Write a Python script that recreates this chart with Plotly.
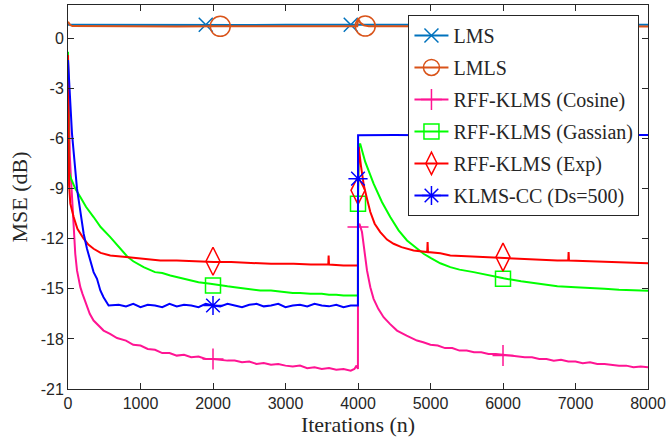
import plotly.graph_objects as go

# ---------------- data ----------------
lms_n = [0, 500, 1000, 1500, 2000, 2500, 3000, 3500, 4000, 4500, 5000, 5500, 6000, 6500, 7000, 7500, 8000]
lms_v = [0.82, 0.81, 0.83, 0.81, 0.82, 0.80, 0.82, 0.81, 0.83, 0.81, 0.82, 0.81, 0.82, 0.80, 0.82, 0.81, 0.82]
lms_mk_n = [1900, 3900, 5900]
lms_mk_v = [0.82, 0.82, 0.82]

lmls_n = [0, 10, 30, 60, 500, 1000, 1500, 2000, 2500, 3000, 3500, 3990, 4000, 4030, 4080, 4150,
          4500, 5000, 5500, 6000, 6500, 7000, 7500, 8000]
lmls_v = [1.00, 0.95, 0.80, 0.74, 0.72, 0.73, 0.71, 0.72, 0.73, 0.72, 0.71, 0.72, 1.20, 0.95, 0.78, 0.73,
          0.72, 0.71, 0.72, 0.73, 0.71, 0.72, 0.72, 0.71]
lmls_mk_n = [2100, 4100, 6100]
lmls_mk_v = [0.72, 0.74, 0.72]

cos_n = [0, 10, 25, 40, 55, 78, 100, 124, 150, 170, 200, 230, 262, 300, 353, 420, 491, 580, 676, 800,
         900, 1000, 1100, 1200, 1300, 1400, 1500, 1600, 1700, 1800, 1900, 2000, 2100, 2200, 2300, 2400,
         2500, 2600, 2700, 2800, 2900, 3000, 3100, 3200, 3300, 3400, 3500, 3600, 3700, 3800, 3900, 3950,
         3980, 3999,
         4000, 4020, 4055, 4090, 4124, 4170, 4215, 4280, 4353, 4440, 4538, 4670, 4814, 4900, 5000, 5100,
         5200, 5300, 5400, 5500, 5600, 5700, 5800, 5900, 6000, 6100, 6200, 6300, 6400, 6500, 6600, 6700,
         6800, 6900, 7000, 7100, 7200, 7300, 7400, 7500, 7600, 7700, 7800, 7900, 8000]
cos_v = [-1.2, -5.0, -7.0, -8.3, -9.6, -11.6, -12.9, -13.9, -14.5, -14.9, -15.3, -15.7, -16.1, -16.5,
         -16.9, -17.2, -17.5, -17.7, -17.95, -18.1, -18.35, -18.4, -18.6, -18.65, -18.85, -18.85, -19.0,
         -18.95, -19.1, -19.05, -19.2, -19.2, -19.25, -19.3, -19.3, -19.4, -19.35, -19.5, -19.45, -19.55,
         -19.5, -19.6, -19.65, -19.6, -19.75, -19.7, -19.8, -19.75, -19.85, -19.8, -19.9, -19.8, -19.6,
         -19.8,
         -11.3, -11.1, -11.6, -12.8, -13.9, -14.9, -15.6, -16.2, -16.7, -17.1, -17.5, -17.8, -18.1, -18.2,
         -18.35, -18.4, -18.55, -18.55, -18.7, -18.7, -18.8, -18.8, -18.9, -18.9, -18.95, -19.0, -19.05,
         -19.1, -19.1, -19.2, -19.2, -19.3, -19.25, -19.35, -19.35, -19.45, -19.4, -19.5, -19.5, -19.55,
         -19.6, -19.6, -19.7, -19.65, -19.7]
cos_mk_n = [2000, 4000, 6000]
cos_mk_v = [-19.2, -11.3, -19.0]

gau_n = [0, 8, 15, 32, 100, 170, 250, 353, 450, 583, 700, 814, 900, 1043, 1200, 1300, 1411, 1500, 1600,
         1700, 1800, 1963, 2100, 2200, 2300, 2400, 2500, 2652, 2800, 2900, 3000, 3100, 3200, 3342, 3500,
         3600, 3700, 3800, 3900, 3999,
         4000, 4010, 4029, 4100, 4215, 4330, 4445, 4560, 4676, 4790, 4905, 5000, 5135, 5273, 5400, 5595,
         5800, 6008, 6250, 6514, 6750, 7000, 7204, 7400, 7600, 7800, 8000]
gau_v = [-0.8, -6.0, -8.0, -8.3, -9.0, -9.5, -10.1, -10.7, -11.3, -11.9, -12.5, -13.05, -13.35, -13.7,
         -14.0, -14.05, -14.2, -14.3, -14.4, -14.5, -14.6, -14.7, -14.8, -14.85, -14.9, -14.95, -15.0,
         -15.1, -15.1, -15.15, -15.2, -15.25, -15.25, -15.3, -15.3, -15.35, -15.35, -15.4, -15.4, -15.4,
         -9.9, -6.6, -6.3, -7.4, -8.7, -9.8, -10.7, -11.5, -12.1, -12.5, -12.9, -13.15, -13.47, -13.7,
         -13.85, -14.0, -14.2, -14.37, -14.55, -14.71, -14.85, -14.9, -14.97, -15.0, -15.05, -15.1, -15.11]
gau_mk_n = [2000, 4000, 6000]
gau_mk_v = [-14.8, -9.9, -14.4]

exp_n = [0, 5, 15, 32, 55, 78, 130, 216, 280, 353, 450, 583, 800, 1043, 1273, 1500, 1750, 2009, 2250,
         2500, 2800, 3112, 3350, 3590, 3595, 3600, 3800, 3999,
         4000, 4010, 4040, 4080, 4124, 4170, 4230, 4307, 4400, 4491, 4600, 4767, 4955, 4960, 4965, 5135,
         5273, 5500, 5750, 6008, 6250, 6500, 6750, 6900, 6905, 6910, 7200, 7500, 7750, 8000]
exp_v = [-1.0, -7.3, -8.8, -9.9, -10.4, -10.7, -11.4, -12.0, -12.35, -12.6, -12.85, -13.0, -13.1, -13.2,
         -13.3, -13.3, -13.35, -13.4, -13.4, -13.45, -13.5, -13.5, -13.55, -13.55, -13.0, -13.55, -13.6,
         -13.6,
         -9.1, -6.5, -7.6, -8.8, -9.6, -10.4, -11.1, -11.6, -12.05, -12.3, -12.5, -12.7, -12.8, -12.2,
         -12.8, -12.87, -13.0, -13.05, -13.1, -13.17, -13.2, -13.25, -13.3, -13.3, -12.8, -13.3, -13.35,
         -13.4, -13.45, -13.47]
exp_mk_n = [2000, 4000, 6000]
exp_mk_v = [-13.35, -9.1, -13.1]

kcc_n = [0, 55, 124, 170, 216, 262, 308, 353, 400, 446, 490, 538, 560, 700, 800, 900, 1000, 1100, 1200,
         1300, 1400, 1500, 1600, 1700, 1800, 1900, 2000, 2100, 2200, 2300, 2400, 2500, 2600, 2700, 2800,
         2900, 3000, 3100, 3200, 3300, 3400, 3500, 3600, 3700, 3800, 3900, 3999,
         4000, 4001, 4500, 5000, 5500, 6000, 6500, 7000, 7500, 8000]
kcc_v = [-1.3, -5.7, -9.0, -10.4, -11.7, -12.6, -13.3, -14.0, -14.4, -15.1, -15.5, -15.9, -16.0, -15.95,
         -16.05, -15.9, -16.1, -15.95, -16.0, -16.1, -15.9, -16.05, -15.95, -16.0, -16.1, -15.9, -16.0,
         -16.05, -15.9, -16.0, -16.1, -15.95, -15.9, -16.05, -16.0, -15.9, -16.1, -16.0, -15.95, -16.05,
         -15.9, -16.0, -16.05, -15.95, -16.1, -16.0, -16.0,
         -8.4, -5.8, -5.78, -5.8, -5.77, -5.8, -5.79, -5.78, -5.8, -5.78]
kcc_mk_n = [2000, 4000, 6000]
kcc_mk_v = [-16.0, -8.4, -5.8]

x_ticks = [0, 1000, 2000, 3000, 4000, 5000, 6000, 7000, 8000]
y_ticks = [-21, -18, -15, -12, -9, -6, -3, 0]
y_tick_labels = ["-21", "-18", "-15", "-12", "-9", "-6", "-3", "0"]

# ---------------- figure ----------------
series = [
    ("LMS", "#0072BD", lms_n, lms_v, lms_mk_n, lms_mk_v, "x-thin-open", 14),
    ("LMLS", "#D95319", lmls_n, lmls_v, lmls_mk_n, lmls_mk_v, "circle-open", 20),
    ("RFF-KLMS (Cosine)", "#FF1493", cos_n, cos_v, cos_mk_n, cos_mk_v, "cross-thin-open", 15),
    ("RFF-KLMS (Gassian)", "#00FF00", gau_n, gau_v, gau_mk_n, gau_mk_v, "square-open", 15),
    ("RFF-KLMS (Exp)", "#FF0000", exp_n, exp_v, exp_mk_n, exp_mk_v, "diamond-tall-open", 20),
    ("KLMS-CC (Ds=500)", "#0000FF", kcc_n, kcc_v, kcc_mk_n, kcc_mk_v, "asterisk-open", 16),
]

fig = go.Figure()
for i, (name, color, xn, yv, mxn, myv, sym, ms) in enumerate(series):
    fig.add_trace(go.Scatter(
        x=xn, y=yv, mode="lines", line=dict(color=color, width=2),
        legendgroup=f"g{i}", showlegend=False, hoverinfo="skip"))
    mx, my = [], []
    for a, b in zip(mxn, myv):
        mx += [a, None]
        my += [b, None]
    fig.add_trace(go.Scatter(
        x=mx[:-1], y=my[:-1], mode="lines+markers", name=name, connectgaps=False,
        line=dict(color=color, width=2),
        marker=dict(symbol=sym, size=ms, color=color, line=dict(color=color, width=1.5)),
        legendgroup=f"g{i}"))

axis_color = "#262626"
serif = "Liberation Serif"
fig.update_layout(
    width=667, height=445,
    margin=dict(l=68, r=19, t=5, b=56, autoexpand=False),
    paper_bgcolor="white", plot_bgcolor="white",
    font=dict(family="Liberation Sans", size=16, color=axis_color),
    showlegend=True,
    legend=dict(
        x=0.587, y=0.974, xanchor="left", yanchor="top",
        bgcolor="white", bordercolor=axis_color, borderwidth=1,
        font=dict(family=serif, size=20, color=axis_color),
        tracegroupgap=3, itemwidth=34,
    ),
)
fig.update_xaxes(
    range=[0, 8000], tickvals=x_ticks, ticks="inside", ticklen=6, tickwidth=1,
    tickcolor=axis_color, showline=True, linecolor=axis_color, linewidth=1, mirror="ticks",
    showgrid=False, zeroline=False, automargin=False,
    tickfont=dict(family="Liberation Sans", size=16),
    title_text="Iterations (n)",
    title_font=dict(family=serif, size=22, color=axis_color),
    title_standoff=2,
)
fig.update_yaxes(
    range=[-21, 2], tickvals=y_ticks, ticktext=y_tick_labels, ticks="inside", ticklen=6, tickwidth=1,
    tickcolor=axis_color, showline=True, linecolor=axis_color, linewidth=1, mirror="ticks",
    showgrid=False, zeroline=False, automargin=False,
    tickfont=dict(family="Liberation Sans", size=16),
    title_text="MSE (dB)",
    title_font=dict(family=serif, size=22, color=axis_color),
    title_standoff=6,
)

# remove the browser's default 8px page margin so the figure sits at the window's corner
fig.write_html("out.html", config={"displayModeBar": False},
               post_script="document.body.style.margin='0';")
